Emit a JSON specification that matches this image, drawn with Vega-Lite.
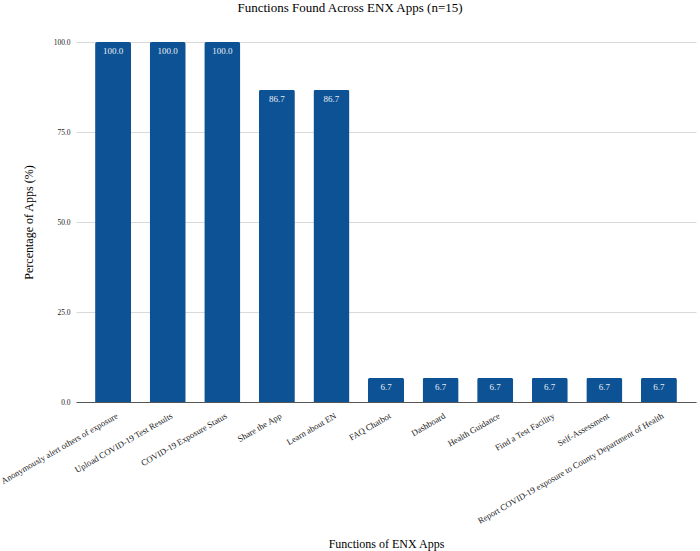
{
  "$schema": "https://vega.github.io/schema/vega-lite/v6.json",
  "autosize": {"type": "none"},
  "width": 620,
  "height": 360,
  "padding": {"left": 76, "top": 42, "right": 4, "bottom": 149},
  "background": "white",
  "title": {"text": "Functions Found Across ENX Apps (n=15)", "font": "Liberation Serif", "fontSize": 13, "fontWeight": "normal", "color": "#000000", "anchor": "middle", "dx": -36, "offset": 23},
  "data": {"values": [
    {"f": "Anonymously alert others of exposure", "v": 100.0},
    {"f": "Upload COVID-19 Test Results", "v": 100.0},
    {"f": "COVID-19 Exposure Status", "v": 100.0},
    {"f": "Share the App", "v": 86.7},
    {"f": "Learn about EN", "v": 86.7},
    {"f": "FAQ Chatbot", "v": 6.7},
    {"f": "Dashboard", "v": 6.7},
    {"f": "Health Guidance", "v": 6.7},
    {"f": "Find a Test Facility", "v": 6.7},
    {"f": "Self-Assessment", "v": 6.7},
    {"f": "Report COVID-19 exposure to County Department of Health", "v": 6.7}
  ]},
  "encoding": {
    "x": {"field": "f", "type": "nominal", "sort": null,
      "scale": {"paddingInner": 0.34, "paddingOuter": 0.35},
      "axis": {"title": "Functions of ENX Apps", "titleFont": "Liberation Serif", "titleFontSize": 12, "titleFontWeight": "normal", "titleColor": "#000", "titleY": 145, "titleBaseline": "alphabetic",
        "labelAngle": -30, "labelFont": "Liberation Serif", "labelFontSize": 8.7, "labelColor": "#1a1a1a", "labelPadding": 9, "labelOffset": 2, "labelLimit": 400,
        "ticks": false, "domainColor": "#555", "domainWidth": 1.2, "grid": false}},
    "y": {"field": "v", "type": "quantitative",
      "scale": {"domain": [0, 100]},
      "axis": {"title": "Percentage of Apps (%)", "titleFont": "Liberation Serif", "titleFontSize": 12, "titleFontWeight": "normal", "titleColor": "#000", "titlePadding": 18,
        "values": [0, 25, 50, 75, 100], "format": ".1f", "labelFont": "Liberation Serif", "labelFontSize": 7.5, "labelColor": "#222", "labelPadding": 6,
        "domain": false, "ticks": false, "gridColor": "#d9d9d9", "gridWidth": 1}}
  },
  "layer": [
    {"mark": {"type": "bar", "color": "#0d5294", "cornerRadiusTopLeft": 2, "cornerRadiusTopRight": 2}},
    {"mark": {"type": "text", "color": "#e8eef6", "font": "Liberation Serif", "fontSize": 9, "baseline": "top", "dy": 5},
     "encoding": {"text": {"field": "v", "type": "quantitative", "format": ".1f"}}}
  ],
  "config": {"view": {"stroke": null}}
}
